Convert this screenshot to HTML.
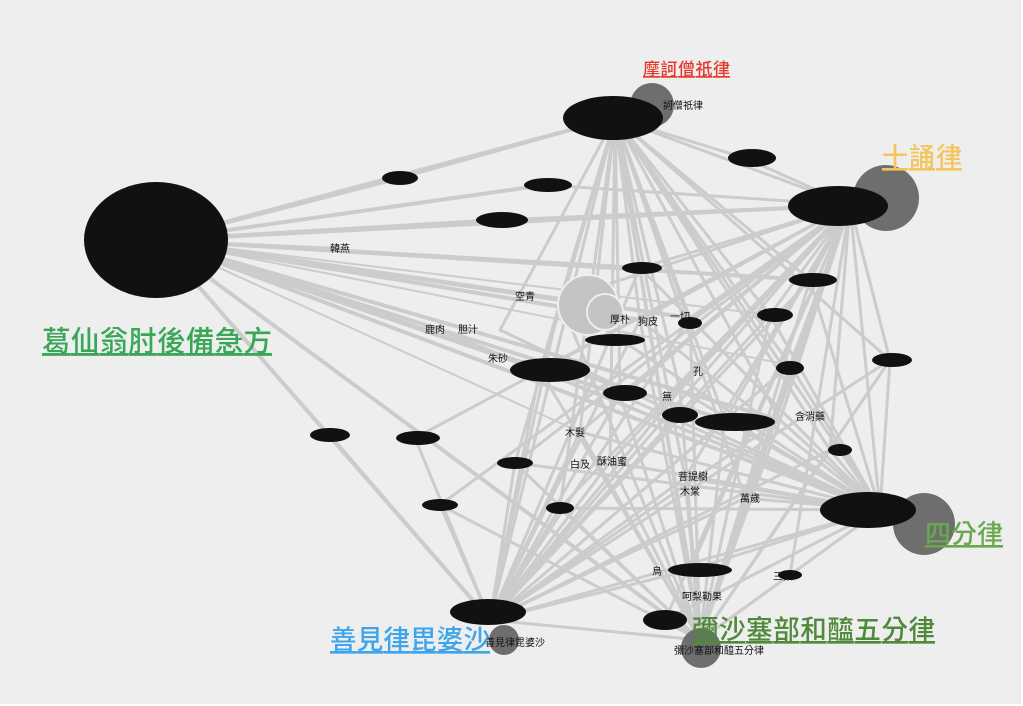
<!DOCTYPE html>
<html><head><meta charset="utf-8">
<style>
html,body{margin:0;padding:0;background:#fff;}
svg{display:block;}
text{font-family:"Liberation Sans","Noto Sans CJK TC",sans-serif;}
.big{text-decoration:underline;text-decoration-color:#e33;text-decoration-style:wavy;text-decoration-thickness:1px;font-weight:500;}
.s{font-size:10px;fill:#111;}
</style></head><body>
<svg width="1023" height="706" viewBox="0 0 1023 706" xmlns="http://www.w3.org/2000/svg">
<rect x="0" y="0" width="1023" height="706" fill="#fff"/>
<rect x="1" y="1" width="1019" height="702" fill="#eeeeee" stroke="#e2e2e2"/>
<g stroke="#cccccc" fill="none" stroke-linecap="round">
<path stroke-width="4" d="M158 240L400 178M158 240L545 185M158 240L500 220M158 240L615 118M158 240L850 205M158 240L640 268M158 240L810 280M158 240L560 300M158 240L640 320M158 240L540 370M158 240L620 395M158 240L725 420M158 240L880 510M158 240L490 620M158 240L700 640M158 240L780 420M158 240L690 318"/>
<path stroke-width="2" d="M158 240L340 248M158 240L435 328M158 240L500 355M158 240L680 390M158 240L790 365M158 240L580 432M158 240L330 435M158 240L770 315"/>
<path stroke-width="3" d="M615 118L850 205M615 118L880 510M615 118L700 640M615 118L490 620M615 118L745 158M615 118L640 268M615 118L810 280M615 118L890 360M615 118L770 315M615 118L560 300M615 118L640 320M615 118L690 318M615 118L540 370M615 118L620 395M615 118L680 390M615 118L725 420M615 118L790 365M615 118L780 420M615 118L830 450M615 118L580 432M615 118L610 462M615 118L685 478M615 118L745 498M615 118L690 570M615 118L560 508M615 118L515 463M615 118L400 178M615 118L500 330"/>
<path stroke-width="3" d="M850 205L880 510M850 205L700 640M850 205L490 620M850 205L745 158M850 205L545 185M850 205L500 220M850 205L640 268M850 205L810 280M850 205L890 360M850 205L770 315M850 205L560 300M850 205L640 320M850 205L690 318M850 205L540 370M850 205L620 395M850 205L680 390M850 205L725 420M850 205L790 365M850 205L780 420M850 205L830 450M850 205L580 432M850 205L610 462M850 205L685 478M850 205L745 498M850 205L690 570M850 205L560 508M850 205L515 463M850 205L440 505M850 205L415 438M850 205L790 575M850 205L665 620"/>
<path stroke-width="3" d="M880 510L700 640M880 510L490 620M880 510L640 268M880 510L810 280M880 510L890 360M880 510L770 315M880 510L560 300M880 510L640 320M880 510L690 318M880 510L540 370M880 510L620 395M880 510L680 390M880 510L725 420M880 510L790 365M880 510L780 420M880 510L830 450M880 510L580 432M880 510L610 462M880 510L685 478M880 510L745 498M880 510L690 570M880 510L560 508M880 510L515 463M880 510L790 575M880 510L665 620M880 510L500 330M880 510L435 328"/>
<path stroke-width="3" d="M700 640L490 620M700 640L640 268M700 640L810 280M700 640L890 360M700 640L770 315M700 640L560 300M700 640L640 320M700 640L690 318M700 640L540 370M700 640L620 395M700 640L680 390M700 640L725 420M700 640L790 365M700 640L780 420M700 640L830 450M700 640L580 432M700 640L610 462M700 640L685 478M700 640L745 498M700 640L560 508M700 640L515 463M700 640L790 575M700 640L440 505"/>
<path stroke-width="3" d="M490 620L640 268M490 620L810 280M490 620L890 360M490 620L770 315M490 620L560 300M490 620L640 320M490 620L690 318M490 620L540 370M490 620L620 395M490 620L680 390M490 620L725 420M490 620L790 365M490 620L780 420M490 620L830 450M490 620L580 432M490 620L610 462M490 620L685 478M490 620L745 498M490 620L560 508M490 620L515 463M490 620L440 505M490 620L330 435M490 620L415 438M490 620L690 570"/>
</g>
<g fill="#6e6e6e">
<circle cx="652" cy="105" r="22"/>
<circle cx="886" cy="198" r="33"/>
<circle cx="924" cy="524" r="31"/>
<circle cx="701" cy="648" r="20"/>
<circle cx="504" cy="640" r="15"/>
</g>
<circle cx="588" cy="305" r="30" fill="#c4c4c4" stroke="#eee" stroke-width="2"/>
<circle cx="605" cy="312" r="18" fill="#c4c4c4" stroke="#eee" stroke-width="2"/>
<g fill="#111">
<ellipse cx="156" cy="240" rx="72" ry="58"/>
<ellipse cx="613" cy="118" rx="50" ry="22"/>
<ellipse cx="838" cy="206" rx="50" ry="20"/>
<ellipse cx="868" cy="510" rx="48" ry="18"/>
<ellipse cx="488" cy="612" rx="38" ry="13"/>
<ellipse cx="400" cy="178" rx="18" ry="7"/>
<ellipse cx="548" cy="185" rx="24" ry="7"/>
<ellipse cx="502" cy="220" rx="26" ry="8"/>
<ellipse cx="752" cy="158" rx="24" ry="9"/>
<ellipse cx="642" cy="268" rx="20" ry="6"/>
<ellipse cx="813" cy="280" rx="24" ry="7"/>
<ellipse cx="892" cy="360" rx="20" ry="7"/>
<ellipse cx="775" cy="315" rx="18" ry="7"/>
<ellipse cx="550" cy="370" rx="40" ry="12"/>
<ellipse cx="625" cy="393" rx="22" ry="8"/>
<ellipse cx="735" cy="422" rx="40" ry="9"/>
<ellipse cx="790" cy="368" rx="14" ry="7"/>
<ellipse cx="690" cy="323" rx="12" ry="6"/>
<ellipse cx="615" cy="340" rx="30" ry="6"/>
<ellipse cx="330" cy="435" rx="20" ry="7"/>
<ellipse cx="418" cy="438" rx="22" ry="7"/>
<ellipse cx="515" cy="463" rx="18" ry="6"/>
<ellipse cx="680" cy="415" rx="18" ry="8"/>
<ellipse cx="840" cy="450" rx="12" ry="6"/>
<ellipse cx="440" cy="505" rx="18" ry="6"/>
<ellipse cx="560" cy="508" rx="14" ry="6"/>
<ellipse cx="700" cy="570" rx="32" ry="7"/>
<ellipse cx="665" cy="620" rx="22" ry="10"/>
<ellipse cx="790" cy="575" rx="12" ry="5"/>
</g>
<g class="s">
<text x="663" y="109" class="s">訶僧祇律</text>
<text x="330" y="252">韓燕</text>
<text x="425" y="333">鹿肉</text>
<text x="458" y="333">胆汁</text>
<text x="488" y="362">朱砂</text>
<text x="515" y="300">空青</text>
<text x="610" y="323">厚朴</text>
<text x="638" y="325">狗皮</text>
<text x="670" y="320">一切</text>
<text x="760" y="320">白</text>
<text x="565" y="436">木髮</text>
<text x="570" y="468">白及</text>
<text x="597" y="465">酥油蜜</text>
<text x="678" y="480">菩提樹</text>
<text x="680" y="495">木棠</text>
<text x="740" y="502">萬歲</text>
<text x="795" y="420">含消藥</text>
<text x="773" y="580">三藥</text>
<text x="652" y="575">烏</text>
<text x="682" y="600">呵梨勒果</text>
<text x="674" y="654">彌沙塞部和醯五分律</text>
<text x="485" y="646">善見律毘婆沙</text>
<text x="693" y="375">孔</text>
<text x="662" y="400">無</text>
</g>
<text x="42" y="351" class="big" fill="#3aa757" style="font-size:28.5px" textLength="230">葛仙翁肘後備急方</text>
<text x="643" y="75" class="big" fill="#e5392c" style="font-size:17px" textLength="87">摩訶僧祇律</text>
<text x="882" y="166" class="big" fill="#f4c55a" style="font-size:26px" textLength="80">十誦律</text>
<text x="925" y="543" class="big" fill="#6aa84f" style="font-size:26px" textLength="78">四分律</text>
<text x="330" y="649" class="big" fill="#3ea5ec" style="font-size:26.5px" textLength="160">善見律毘婆沙</text>
<text x="692" y="639" class="big" fill="#4f8a3a" style="font-size:26.5px" textLength="243">彌沙塞部和醯五分律</text>
</svg>
</body></html>
